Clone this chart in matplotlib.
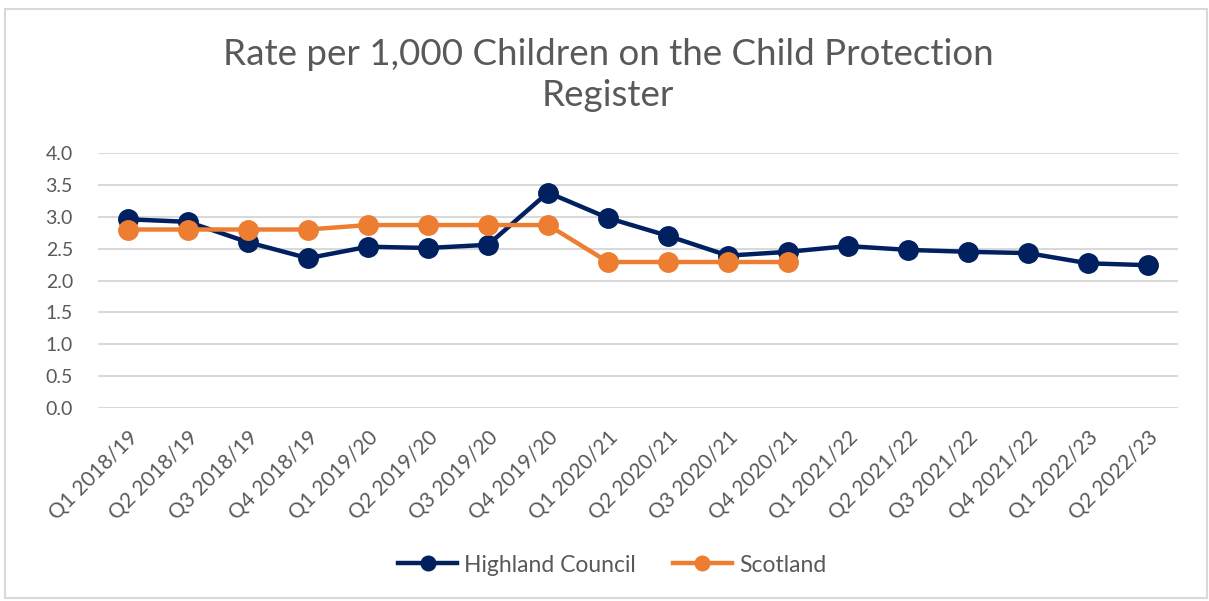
import matplotlib
matplotlib.use('Agg')
import matplotlib.pyplot as plt
from matplotlib.patches import Rectangle

plt.rcParams['font.family'] = ['Lato', 'DejaVu Sans']

# 数据
quarters = ['Q1 2018/19', 'Q2 2018/19', 'Q3 2018/19', 'Q4 2018/19',
            'Q1 2019/20', 'Q2 2019/20', 'Q3 2019/20', 'Q4 2019/20',
            'Q1 2020/21', 'Q2 2020/21', 'Q3 2020/21', 'Q4 2020/21',
            'Q1 2021/22', 'Q2 2021/22', 'Q3 2021/22', 'Q4 2021/22',
            'Q1 2022/23', 'Q2 2022/23']
highland = [2.96, 2.92, 2.60, 2.35, 2.53, 2.51, 2.56, 3.38,
            2.98, 2.70, 2.39, 2.45, 2.54, 2.48, 2.45, 2.43,
            2.27, 2.24]
scotland = [2.80, 2.80, 2.80, 2.80, 2.87, 2.87, 2.87, 2.87,
            2.29, 2.29, 2.29, 2.29]
y_ticks = [0.0, 0.5, 1.0, 1.5, 2.0, 2.5, 3.0, 3.5, 4.0]

NAVY = '#002060'
ORANGE = '#ED7D31'
GREY = '#595959'
GRID = '#D9D9D9'

W, H = 1209, 601
fig = plt.figure(figsize=(W / 100, H / 100), dpi=100)
ax = fig.add_axes([98 / W, 1 - 408 / H, (1178 - 98) / W, (408 - 153) / H])

# 外框
fig.patches.append(Rectangle((5 / W, 1 - 598 / H), 1202 / W, 589 / H,
                             transform=fig.transFigure, fill=False,
                             edgecolor=GRID, linewidth=1.5))

x_h = list(range(len(highland)))
x_s = list(range(len(scotland)))
ax.plot(x_h, highland, color=NAVY, linewidth=3.2, marker='o', markersize=14,
        label='Highland Council', zorder=3)
ax.plot(x_s, scotland, color=ORANGE, linewidth=3.2, marker='o', markersize=14,
        label='Scotland', zorder=4)

ax.set_xlim(-0.5, len(quarters) - 0.5)
ax.set_ylim(0, 4)
ax.set_yticks(y_ticks)
ax.set_yticklabels([f'{v:.1f}' for v in y_ticks])
ax.set_xticks(x_h)
ax.set_xticklabels(quarters, rotation=45, ha='right', rotation_mode='anchor')
ax.tick_params(axis='y', length=0, pad=18, labelsize=14, labelcolor=GREY)
ax.tick_params(axis='x', length=0, pad=14, labelsize=15, labelcolor=GREY)
ax.grid(axis='y', color=GRID, linewidth=1.5)
ax.set_axisbelow(True)
for s in ax.spines.values():
    s.set_visible(False)

fig.text(608 / W, 1 - 75 / H, 'Rate per 1,000 Children on the Child Protection\nRegister',
         ha='center', va='center', fontsize=26.5, color=GREY, linespacing=1.3)

ax.legend(loc='center', bbox_to_anchor=(612 / W, 1 - 565 / H),
          bbox_transform=fig.transFigure, ncol=2, frameon=False,
          fontsize=16.5, labelcolor=GREY, handlelength=2.6, columnspacing=1.6,
          handletextpad=0.3, markerscale=0.75)

fig.savefig('out.png', dpi=100)
